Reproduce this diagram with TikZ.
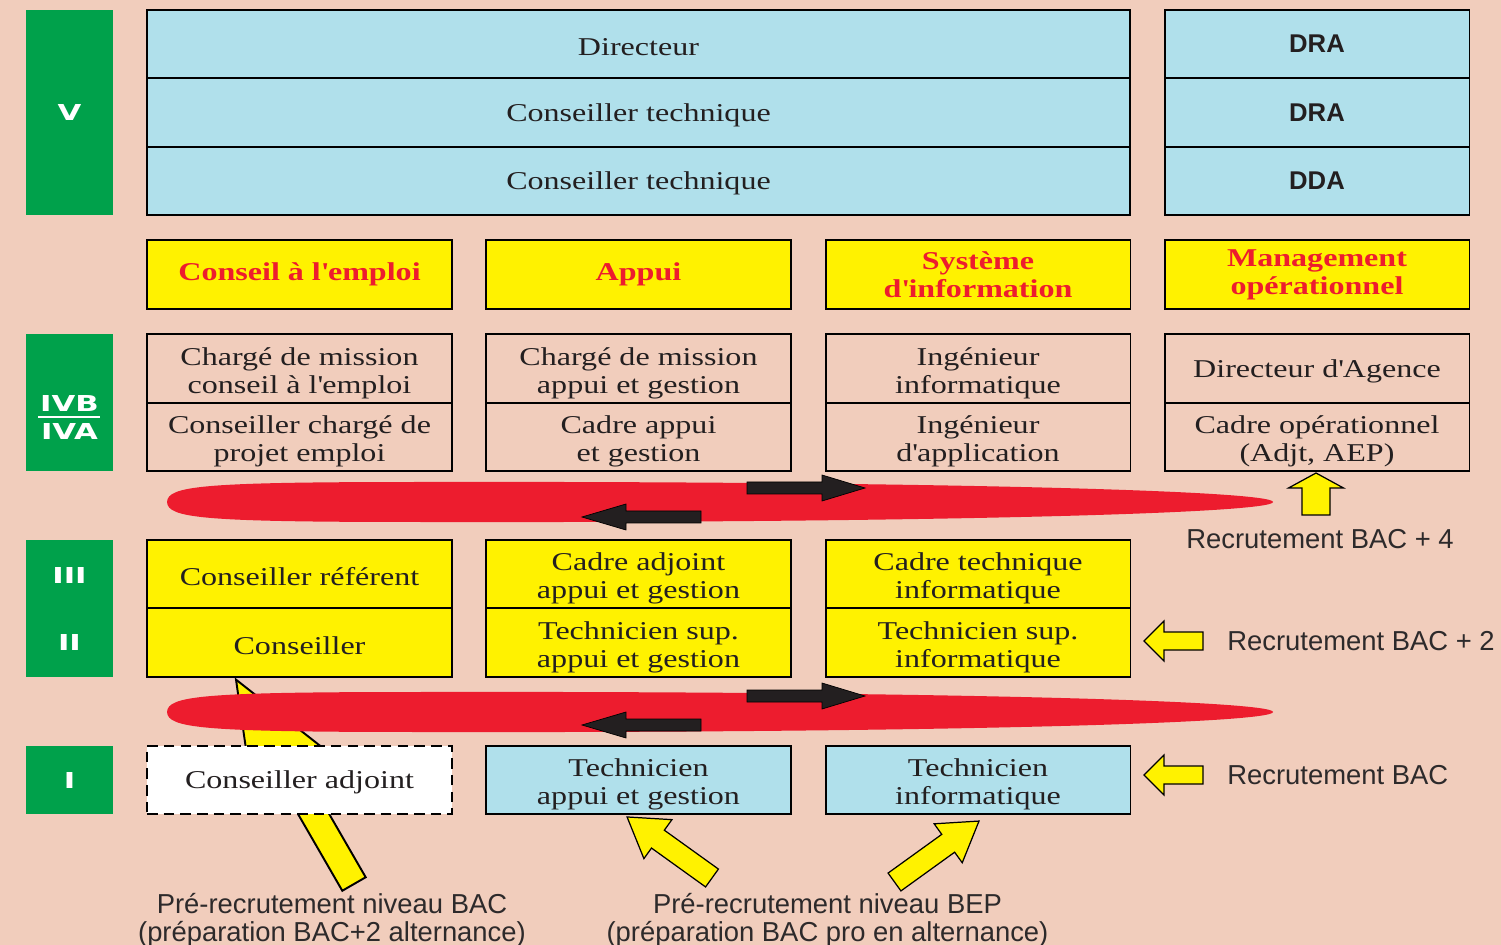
\documentclass[tikz,border=0pt]{standalone}
\usepackage{fontspec}
\setmainfont{Liberation Serif}[FakeStretch=1.25]
\newfontfamily\gradefont{DejaVu Sans}[FakeStretch=1.4]
\newfontfamily\notefont{Liberation Sans}

\definecolor{peach}{RGB}{241,205,188}
\definecolor{paleblue}{RGB}{176,224,235}
\definecolor{lemon}{RGB}{255,242,0}
\definecolor{grass}{RGB}{0,161,75}
\definecolor{flowred}{RGB}{237,28,46}
\definecolor{ink}{RGB}{35,31,32}
\definecolor{inkgray}{RGB}{45,42,43}

\newcommand{\cellfont}{\fontsize{14.6}{15.9}\selectfont}
\newcommand{\dirfont}{\notefont\bfseries\fontsize{14.6}{16}\selectfont}
\newcommand{\notesize}{\notefont\fontsize{15.6}{15.9}\selectfont}
\newcommand{\gradesize}{\gradefont\bfseries\fontsize{12.5}{14}\selectfont}
\newcommand{\ap}{\textquotesingle}
\newcommand{\up}{\rule{0pt}{1.05em}}

\tikzset{
	box/.style={draw=black, line width=1.1pt, minimum width=6.1cm, minimum height=1.37cm,
		inner sep=0pt, align=center, font=\cellfont, text=ink},
	cell/.style={box, execute at begin node={\rule{0pt}{0.91em}}},
	bluecell/.style={cell, fill=paleblue},
	yellowcell/.style={cell, fill=lemon},
	headcell/.style={box, fill=lemon, text=flowred, font=\cellfont\bfseries,
		execute at begin node={\rule{0pt}{0.65em}}},
	dracell/.style={box, fill=paleblue, font=\dirfont},
	grade/.style={fill=grass, minimum width=1.74cm, inner sep=0pt},
	gradetext/.style={text=white, font=\gradesize, inner sep=0pt},
	recruit/.style={anchor=west, inner sep=0pt, text=inkgray, font=\notesize},
	prerecruit/.style={align=center, inner sep=0pt, text=inkgray, font=\notesize},
	pics/blockarrow/.style args={#1/#2/#3/#4}{code={
		\path[pic actions] (0,-#2) -- (#1-#3,-#2) -- (#1-#3,-#4) -- (#1,0)
			-- (#1-#3,#4) -- (#1-#3,#2) -- (0,#2) -- cycle;
	}},
	yarrow/.style={draw=black, fill=lemon, line width=0.7pt},
	karrow/.style={draw=black, fill=ink, line width=0.4pt},
}

\begin{document}
\begin{tikzpicture}[x=0.02cm, y=-0.02cm]

	\fill[peach] (0,0) rectangle (1501,945);
	\useasboundingbox (0,0) rectangle (1501,945);

	% pre-recrutement BAC, under the red band
	\pic[yarrow, line width=1.1pt, rotate=120] at (354,884) {blockarrow=236/13.5/105/42};

	\foreach \ey in {502,712}{
		\fill[flowred, shift={(0,\ey)}] (167,0) .. controls (168,-16) and (200,-20) .. (420,-20)
			.. controls (900,-21) and (1273,-12) .. (1273,0)
			.. controls (1273,12) and (900,21) .. (420,20)
			.. controls (200,20) and (168,16) .. (167,0) -- cycle;
	}

	% grades
	\node[grade, minimum height=4.1cm] (lvlV) at (69.5,112.5) {};
	\node[gradetext] (gV) at (lvlV) {V};
	\node[grade, minimum height=2.74cm] (lvlIV) at (69.5,402.5) {};
	\node[gradetext] (gIVB) at (69.5,403) {IVB};
	\node[gradetext] (gIVA) at (69.5,431) {IVA};
	\draw[white, line width=1.3pt] (38,417) -- (100,417);
	\node[grade, minimum height=2.74cm] (lvlIII) at (69.5,608.5) {};
	\node[gradetext] (gIII) at (69.5,575) {III};
	\node[gradetext] (gII) at (69.5,642) {II};
	\node[grade, minimum height=1.36cm] (lvlI) at (69.5,780) {};
	\node[gradetext] (gI) at (lvlI) {I};

	% direction
	\node[bluecell, minimum width=19.66cm] (dir) at (638.5,44) {Directeur};
	\node[bluecell, minimum width=19.66cm] (ct1) at (638.5,112.5) {Conseiller technique};
	\node[bluecell, minimum width=19.66cm] (ct2) at (638.5,181) {Conseiller technique};
	\node[dracell] (dra1) at (1317,44) {DRA};
	\node[dracell] (dra2) at (1317,112.5) {DRA};
	\node[dracell] (dda) at (1317,181) {DDA};

	% filieres
	\node[headcell] (hce) at (299.5,274.5) {Conseil à l\ap emploi};
	\node[headcell] (hap) at (638.5,274.5) {Appui};
	\node[headcell] (hsi) at (978,274.5) {Système\\d\ap information};
	\node[headcell] (hmo) at (1317,274.5) {Management\\opérationnel};

	\node[cell] (ce4b) at (299.5,368.5) {\up Chargé de mission\\conseil à l\ap emploi};
	\node[cell] (ce4a) at (299.5,437) {\up Conseiller chargé de\\projet emploi};
	\node[cell] (ap4b) at (638.5,368.5) {\up Chargé de mission\\appui et gestion};
	\node[cell] (ap4a) at (638.5,437) {\up Cadre appui\\et gestion};
	\node[cell] (si4b) at (978,368.5) {\up Ingénieur\\informatique};
	\node[cell] (si4a) at (978,437) {\up Ingénieur\\d\ap application};
	\node[cell] (mo4b) at (1317,368.5) {Directeur d\ap Agence};
	\node[cell] (mo4a) at (1317,437) {\up Cadre opérationnel\\(Adjt, AEP)};

	\node[yellowcell] (ce3) at (299.5,574) {Conseiller référent};
	\node[yellowcell] (ce2) at (299.5,642.5) {Conseiller};
	\node[yellowcell] (ap3) at (638.5,574) {\up Cadre adjoint\\appui et gestion};
	\node[yellowcell] (ap2) at (638.5,642.5) {\up Technicien sup.\\appui et gestion};
	\node[yellowcell] (si3) at (978,574) {\up Cadre technique\\informatique};
	\node[yellowcell] (si2) at (978,642.5) {\up Technicien sup.\\informatique};

	\node[cell, fill=white, dash pattern=on 6pt off 3.5pt, line width=1.3pt] (ce1) at (299.5,780) {Conseiller adjoint};
	\node[bluecell] (ap1) at (638.5,780) {\up Technicien\\appui et gestion};
	\node[bluecell] (si1) at (978,780) {\up Technicien\\informatique};

	% mobilite
	\pic[karrow] at (747,488) {blockarrow=118/6/43/13};
	\pic[karrow, rotate=180] at (701,517) {blockarrow=119/6/44/13};
	\pic[karrow] at (747,696) {blockarrow=118/6/43/13};
	\pic[karrow, rotate=180] at (701,725) {blockarrow=119/6/44/13};

	% recrutements
	\pic[yarrow, rotate=90] at (1316,515) {blockarrow=42/14/15/27.5};
	\pic[yarrow, rotate=180] at (1203,641) {blockarrow=59/9/20/20};
	\pic[yarrow, rotate=180] at (1203,775) {blockarrow=59/9/20/20};
	\pic[yarrow, rotate=144.3] at (712,878) {blockarrow=104.6/11/38/24};
	\pic[yarrow, rotate=35.8] at (894.5,882) {blockarrow=104.2/11/38/24};

	\node[recruit] (rec4) at (1186,539) {Recrutement BAC + 4};
	\node[recruit] (rec2) at (1227,641) {Recrutement BAC + 2};
	\node[recruit] (rec0) at (1227,775) {Recrutement BAC};
	\node[prerecruit] (prebac) at (332,920) {Pré-recrutement niveau BAC\\(préparation BAC+2 alternance)};
	\node[prerecruit] (prebep) at (827.5,920) {Pré-recrutement niveau BEP\\(préparation BAC pro en alternance)};

\end{tikzpicture}
\end{document}
